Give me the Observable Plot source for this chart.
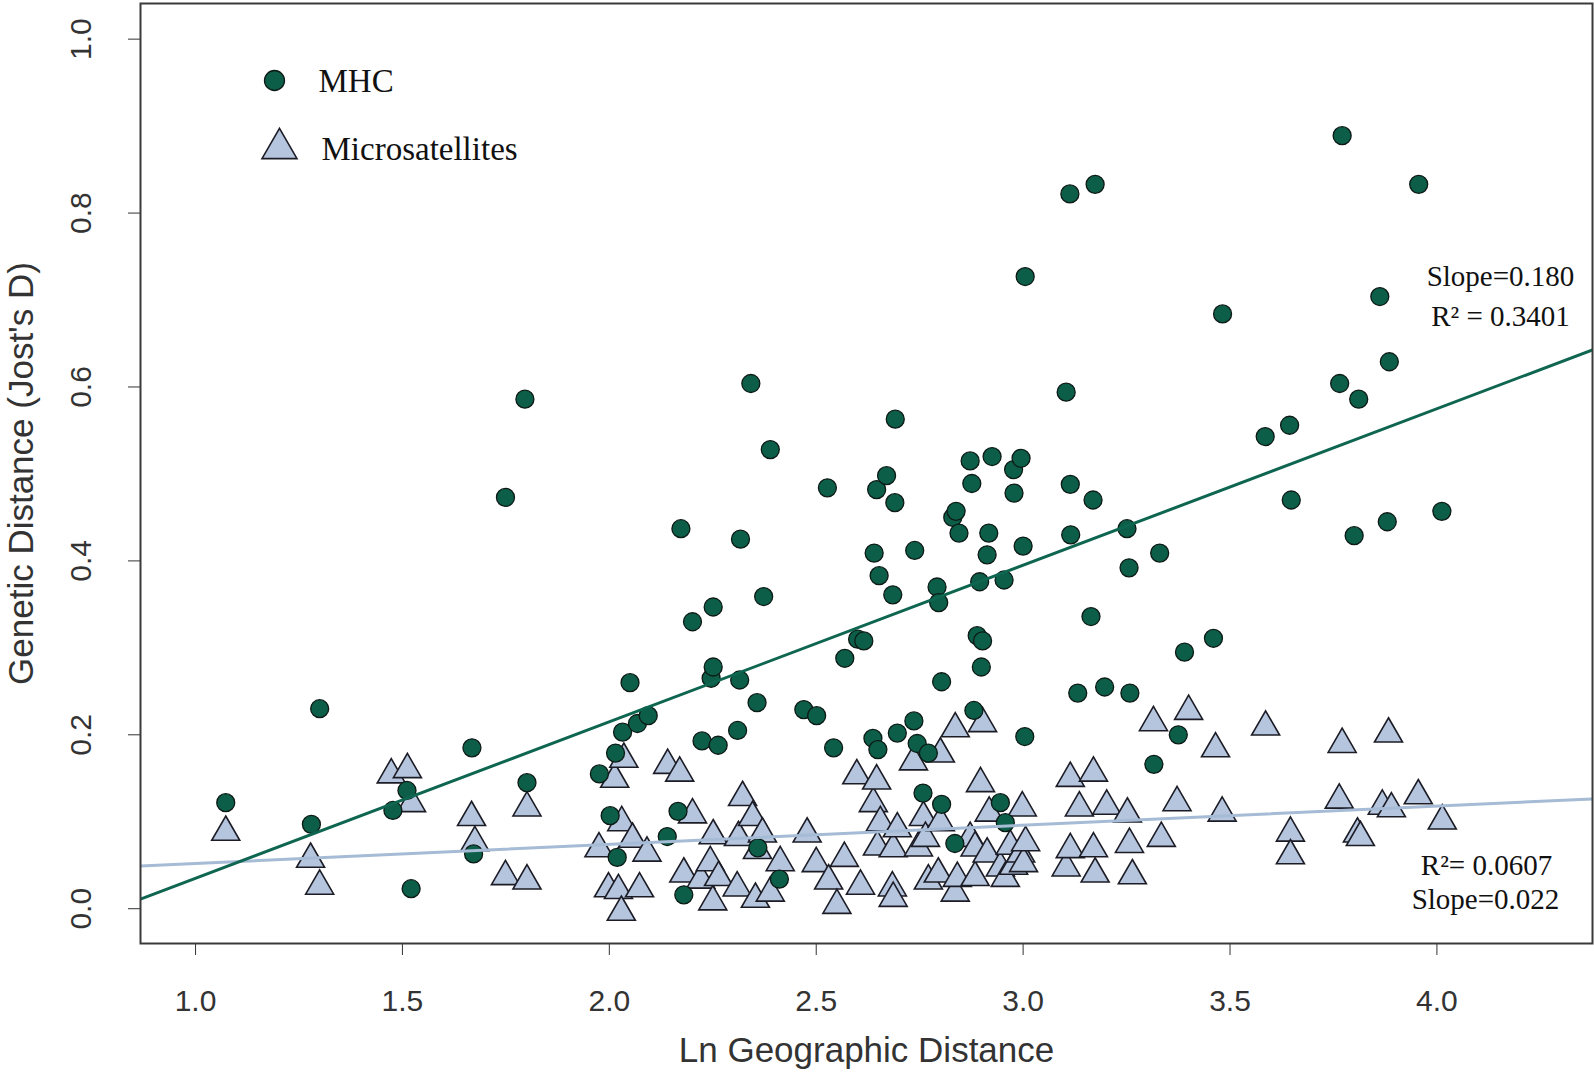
<!DOCTYPE html>
<html>
<head>
<meta charset="utf-8">
<script src="https://cdn.jsdelivr.net/npm/d3@7"></script>
<script src="https://cdn.jsdelivr.net/npm/@observablehq/plot@0.6"></script>
<style>
  html, body { margin: 0; padding: 0; background: #ffffff; }
  #chart { width: 1594px; height: 1073px; }
</style>
</head>
<body>
<div id="chart"></div>
<script>
// ---- Data ----
const mhcX = [1.073,1.280,1.300,1.477,1.511,1.521,1.668,1.672,1.749,1.796,1.801,1.976,2.002,2.015,2.019,2.032,2.050,2.068,2.094,2.140,2.166,2.173,2.180,2.201,2.224,2.246,2.251,2.251,2.263,2.310,2.315,2.317,2.342,2.357,2.359,2.373,2.389,2.411,2.470,2.501,2.527,2.542,2.569,2.600,2.615,2.637,2.640,2.646,2.649,2.652,2.670,2.685,2.690,2.691,2.696,2.736,2.738,2.744,2.758,2.771,2.792,2.796,2.803,2.803,2.830,2.838,2.835,2.845,2.872,2.876,2.881,2.889,2.895,2.899,2.902,2.913,2.917,2.925,2.945,2.954,2.957,2.977,2.978,2.995,3.000,3.004,3.005,3.104,3.113,3.114,3.115,3.132,3.164,3.169,3.174,3.197,3.251,3.256,3.258,3.316,3.330,3.375,3.390,3.460,3.482,3.585,3.644,3.648,3.765,3.771,3.800,3.811,3.862,3.880,3.885,3.956,4.012];
const mhcY = [0.122,0.097,0.230,0.113,0.136,0.023,0.185,0.063,0.473,0.586,0.145,0.155,0.107,0.179,0.059,0.203,0.260,0.213,0.222,0.083,0.112,0.437,0.016,0.330,0.193,0.265,0.278,0.347,0.188,0.205,0.263,0.425,0.604,0.237,0.070,0.359,0.528,0.034,0.229,0.222,0.484,0.185,0.288,0.310,0.308,0.196,0.409,0.482,0.183,0.383,0.498,0.361,0.467,0.563,0.202,0.216,0.412,0.190,0.133,0.179,0.370,0.352,0.261,0.120,0.450,0.457,0.075,0.432,0.515,0.489,0.228,0.314,0.376,0.278,0.308,0.407,0.432,0.520,0.122,0.378,0.099,0.505,0.478,0.518,0.417,0.198,0.727,0.594,0.822,0.488,0.430,0.248,0.336,0.470,0.833,0.255,0.437,0.392,0.248,0.166,0.409,0.200,0.295,0.311,0.684,0.543,0.556,0.470,0.604,0.889,0.429,0.586,0.704,0.445,0.629,0.833,0.457];

const msatX = [1.073,1.278,1.300,1.473,1.512,1.522,1.667,1.675,1.749,1.801,1.801,1.975,1.998,2.013,2.022,2.029,2.030,2.035,2.056,2.073,2.091,2.141,2.170,2.180,2.201,2.221,2.244,2.250,2.251,2.264,2.309,2.312,2.322,2.346,2.353,2.358,2.370,2.389,2.413,2.478,2.500,2.530,2.550,2.568,2.598,2.607,2.638,2.646,2.648,2.655,2.684,2.686,2.686,2.696,2.735,2.747,2.759,2.764,2.771,2.795,2.800,2.800,2.836,2.836,2.841,2.872,2.884,2.884,2.897,2.902,2.913,2.918,2.945,2.957,2.969,2.977,2.994,2.998,3.001,3.006,3.104,3.114,3.114,3.136,3.170,3.170,3.174,3.202,3.252,3.257,3.264,3.315,3.334,3.372,3.400,3.465,3.481,3.586,3.646,3.646,3.764,3.771,3.808,3.815,3.868,3.883,3.890,3.955,4.013];
const msatY = [0.088,0.057,0.026,0.154,0.160,0.121,0.105,0.076,0.037,0.032,0.116,0.069,0.023,0.149,0.021,-0.004,0.099,0.172,0.080,0.023,0.064,0.165,0.156,0.040,0.108,0.033,0.053,0.008,0.084,0.036,0.024,0.082,0.128,0.105,0.011,0.067,0.086,0.018,0.053,0.086,0.052,0.032,0.004,0.058,0.153,0.026,0.121,0.147,0.071,0.099,0.024,0.012,0.069,0.092,0.169,0.070,0.105,0.081,0.032,0.040,0.178,0.099,0.207,0.018,0.035,0.081,0.070,0.036,0.144,0.213,0.063,0.110,0.047,0.035,0.072,0.049,0.063,0.116,0.052,0.076,0.047,0.068,0.150,0.116,0.069,0.156,0.040,0.118,0.109,0.074,0.038,0.214,0.081,0.122,0.227,0.184,0.110,0.209,0.087,0.061,0.125,0.189,0.086,0.082,0.118,0.201,0.115,0.130,0.101];

// regression coefficients [intercept, slope]
const mhcFit = [-0.145, 0.180];
const msatFit = [0.030, 0.022];

const xTicks = [1.0, 1.5, 2.0, 2.5, 3.0, 3.5, 4.0];
const yTicks = [0.0, 0.2, 0.4, 0.6, 0.8, 1.0];
const xDomain = [0.867, 4.376];
const yDomain = [-0.04, 1.041];

const legendLabels = ["MHC", "Microsatellites"];
const mhcStats = ["Slope=0.180", "R\u00B2 = 0.3401"];
const msatStats = ["R\u00B2= 0.0607", "Slope=0.022"];
const xLabel = "Ln Geographic Distance";
const yLabel = "Genetic Distance (Jost's D)";

// ---- Build ----
const mhc = mhcX.map((x, i) => ({x, y: mhcY[i]}));
const msat = msatX.map((x, i) => ({x, y: msatY[i]}));
const mhcLine = xDomain.map(x => ({x, y: mhcFit[0] + mhcFit[1] * x}));
const msatLine = xDomain.map(x => ({x, y: msatFit[0] + msatFit[1] * x}));

const GREEN = "#0c5e48";
const GREEN_LINE = "#0f6650";
const BLUE = "#b5c5dd";
const BLUE_LINE = "#a6bbd5";
const SERIF = "'Liberation Serif', 'Times New Roman', serif";

const serifText = (label, dx, dy, anchor, size) =>
  Plot.text([label], {text: d => d, frameAnchor: "top-left", dx, dy, textAnchor: anchor, lineAnchor: "middle", fontSize: size, fontFamily: SERIF, fill: "#111"});

const chart = Plot.plot({
  width: 1594,
  height: 1073,
  marginLeft: 140,
  marginRight: 2,
  marginTop: 3,
  marginBottom: 130,
  style: {background: "#ffffff", fontFamily: "'Liberation Sans', Arial, sans-serif", fontSize: "30px", color: "#333"},
  x: {domain: xDomain},
  y: {domain: yDomain},
  marks: [
    Plot.axisX({ticks: xTicks, tickSize: 12, tickPadding: 46, lineAnchor: "middle", tickFormat: d3.format(".1f"), label: null, fontSize: 30, color: "#333"}),
    Plot.axisY({ticks: yTicks, tickSize: 12, tickPadding: 47, tickRotate: -90, textAnchor: "middle", lineAnchor: "middle", tickFormat: d3.format(".1f"), label: null, fontSize: 30, color: "#333"}),
    Plot.text([xLabel], {text: d => d, frameAnchor: "bottom", dy: 107, lineAnchor: "middle", textAnchor: "middle", fontSize: 35, fill: "#333"}),
    Plot.text([yLabel], {text: d => d, frameAnchor: "left", dx: -119, rotate: -90, lineAnchor: "middle", textAnchor: "middle", fontSize: 35, fill: "#333"}),
    Plot.dot(msat, {x: "x", y: "y", symbol: "triangle", r: 10.4, fill: BLUE, stroke: "#1c1c26", strokeWidth: 1.6}),
    Plot.dot(mhc, {x: "x", y: "y", r: 9, fill: GREEN, stroke: "#0d1a15", strokeWidth: 1.3}),
    Plot.line(msatLine, {x: "x", y: "y", stroke: BLUE_LINE, strokeWidth: 3, clip: true}),
    Plot.line(mhcLine, {x: "x", y: "y", stroke: GREEN_LINE, strokeWidth: 3, clip: true}),
    // legend
    Plot.dot([legendLabels[0]], {frameAnchor: "top-left", dx: 134, dy: 77, r: 10, fill: GREEN, stroke: "#0d1a15", strokeWidth: 1.3}),
    Plot.dot([legendLabels[1]], {frameAnchor: "top-left", dx: 139, dy: 145, symbol: "triangle", r: 13, fill: BLUE, stroke: "#1c1c26", strokeWidth: 1.6}),
    serifText(legendLabels[0], 178, 78, "start", 33),
    serifText(legendLabels[1], 181, 146, "start", 33),
    // regression annotations
    serifText(mhcStats[0], 1360, 273, "middle", 29),
    serifText(mhcStats[1], 1360, 313, "middle", 29),
    serifText(msatStats[0], 1346, 862, "middle", 29),
    serifText(msatStats[1], 1345, 896, "middle", 29),
    Plot.frame({stroke: "#3a3a3a", strokeWidth: 2})
  ]
});
document.getElementById("chart").appendChild(chart);
</script>
</body>
</html>
